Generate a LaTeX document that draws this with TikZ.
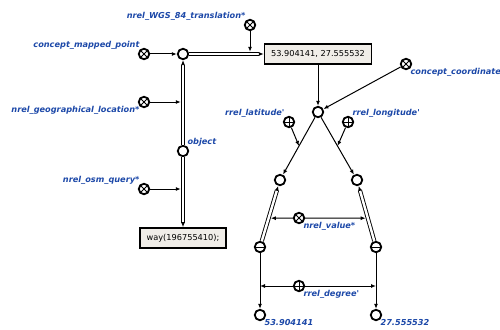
\documentclass[tikz,border=0pt]{standalone}
\usepackage{fontspec}
\setsansfont{DejaVu Sans}
\usetikzlibrary{arrows.meta,calc,positioning}
\definecolor{scblue}{RGB}{28,72,168}
\definecolor{scfill}{RGB}{240,237,232}

\begin{document}
\begin{tikzpicture}[x=1pt,y=-1pt,>={Latex[length=5pt,width=4pt]},
  scnode/.style={shape=circle,draw,line width=1.8pt,minimum size=10.5pt,inner sep=0pt},
  scclass/.style={scnode,path picture={\draw[line width=1pt]
      (path picture bounding box.north west) -- (path picture bounding box.south east)
      (path picture bounding box.north east) -- (path picture bounding box.south west);}},
  scrole/.style={scnode,path picture={\draw[line width=1pt]
      (path picture bounding box.north) -- (path picture bounding box.south)
      (path picture bounding box.east) -- (path picture bounding box.west);}},
  scneg/.style={scnode,path picture={\draw[line width=1pt]
      (path picture bounding box.east) -- (path picture bounding box.west);}},
  scbox/.style={draw,line width=1.6pt,fill=scfill,minimum height=20pt,inner xsep=6.5pt,
      font=\sffamily\fontsize{8.2}{10}\selectfont,
      path picture={\fill (path picture bounding box.north west) -- ++(5pt,0) -- ++(-5pt,-5pt) -- cycle;}},
  sclabel/.style={inner sep=0pt,text=scblue,font=\sffamily\bfseries\itshape\fontsize{8.2}{10}\selectfont},
  sclink/.style={->,line width=1pt},
  onpair/.style={sclink,shorten >=2.2pt},
  sccommon/.style={->,double,double distance=2.4pt,line width=0.9pt}]
\useasboundingbox (0,0) rectangle (500,329);

\node      (main) at (183, 54) [scnode] {};
\node       (cmp) at (144, 54) [scclass] {};
\node       (wgs) at (250, 25) [scclass] {};
\node  (coordBox) at (318, 54) [scbox] {53.904141, 27.555532};
\node       (obj) at (183,151) [scnode] {};
\node       (geo) at (144,102) [scclass] {};
\node       (osm) at (144,189) [scclass] {};
\node    (wayBox) at (183,238) [scbox] {way(196755410);};
\node  (coordcon) at (406, 64) [scclass] {};
\node        (pt) at (318,112) [scnode] {};
\node       (lat) at (289,122) [scrole] {};
\node       (lon) at (348,122) [scrole] {};
\node        (la) at (280,180) [scnode] {};
\node        (lo) at (357,180) [scnode] {};
\node       (laN) at (260,247) [scneg] {};
\node       (loN) at (376,247) [scneg] {};
\node       (val) at (299,218) [scclass] {};
\node       (deg) at (299,286) [scrole] {};
\node        (v1) at (260,315) [scnode] {};
\node        (v2) at (376,315) [scnode] {};

% labels
\node      (cmpL) at (cmp.north west) [sclabel,anchor=south east] {concept\_mapped\_point};
\node      (wgsL) at (wgs.north west) [sclabel,anchor=south east] {nrel\_WGS\_84\_translation*};
\node      (geoL) at (geo.south west) [sclabel,anchor=north east] {nrel\_geographical\_location*};
\node      (osmL) at (osm.north west) [sclabel,anchor=south east] {nrel\_osm\_query*};
\node      (objL) at (obj.north east) [sclabel,anchor=south west] {object};
\node (coordconL) at (coordcon.south east) [sclabel,anchor=north west] {concept\_coordinate};
\node      (latL) at (lat.north west) [sclabel,anchor=south east] {rrel\_latitude\textquotesingle};
\node      (lonL) at (lon.north east) [sclabel,anchor=south west] {rrel\_longitude\textquotesingle};
\node      (valL) at (val.south east) [sclabel,anchor=north west] {nrel\_value*};
\node      (degL) at (deg.south east) [sclabel,anchor=north west] {rrel\_degree\textquotesingle};
\node       (v1L) at (v1.south east) [sclabel,anchor=north west] {53.904141};
\node       (v2L) at (v2.south east) [sclabel,anchor=north west] {27.555532};

\coordinate (wgsEnd) at (wgs |- main);
\coordinate (geoEnd) at (main |- geo);
\coordinate (osmEnd) at (obj |- osm);
\coordinate (latEnd) at ($(pt)!0.5!(la)$);
\coordinate (lonEnd) at ($(pt)!0.5!(lo)$);
\coordinate (valLeft) at ($(laN)!0.43!(la)$);
\coordinate (valRight) at ($(loN)!0.43!(lo)$);
\coordinate (degLeft) at (laN |- deg);
\coordinate (degRight) at (loN |- deg);

\draw [sclink]   (cmp) -- (main);
\draw [sccommon] (main) -- (coordBox);
\draw [onpair]   (wgs) -- (wgsEnd);
\draw [sccommon] (obj) -- (main);
\draw [sccommon] (obj) -- (wayBox);
\draw [onpair]   (geo) -- (geoEnd);
\draw [onpair]   (osm) -- (osmEnd);
\draw [sclink]   (coordBox) -- (pt);
\draw [sclink]   (coordcon) -- (pt);
\draw [sclink]   (pt) -- (la);
\draw [sclink]   (pt) -- (lo);
\draw [sclink]   (lat) -- (latEnd);
\draw [sclink]   (lon) -- (lonEnd);
\draw [sccommon] (laN) -- (la);
\draw [sccommon] (loN) -- (lo);
\draw [onpair]   (val) -- (valLeft);
\draw [onpair]   (val) -- (valRight);
\draw [sclink]   (laN) -- (v1);
\draw [sclink]   (loN) -- (v2);
\draw [sclink]   (deg) -- (degLeft);
\draw [sclink]   (deg) -- (degRight);
\end{tikzpicture}
\end{document}
